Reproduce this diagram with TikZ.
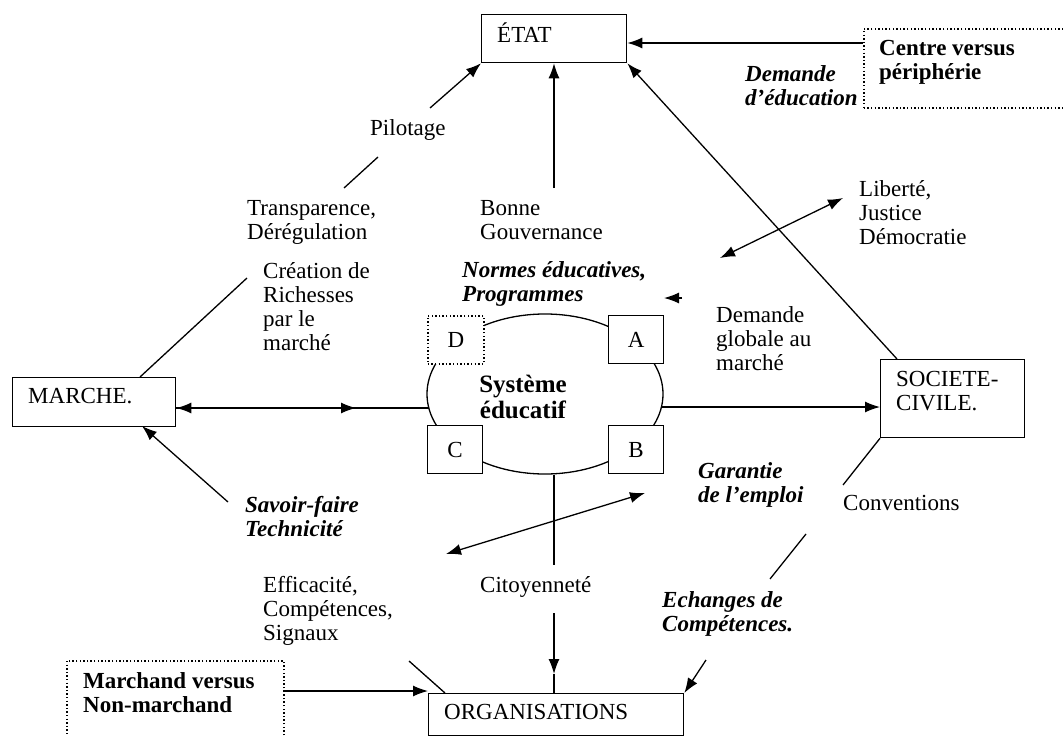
\documentclass[tikz,border=0pt]{standalone}
\usepackage{fontspec}
\setmainfont{Liberation Serif}
\usetikzlibrary{arrows.meta,shapes.geometric}
\newcommand\fs{\fontsize{23}{24}\selectfont}
\newcommand\ml[1]{\vtop{\halign{##\hfil\cr#1\crcr}}}
\newcommand\mlc[1]{\vtop{\halign{\hfil##\hfil\cr#1\crcr}}}
\begin{document}
\begin{tikzpicture}[x=1pt,y=-1pt,
  ln/.style={line width=1.3pt},
  arr/.style={ln,-{Latex[length=15pt,width=11pt]}},
  darr/.style={ln,{Latex[length=15pt,width=11pt]}-{Latex[length=15pt,width=11pt]}},
  box/.style={draw,line width=1.3pt,anchor=north west,inner sep=0pt,fill=white},
  dotbox/.style={box,dash pattern=on 1.4pt off 2.2pt,line width=1.7pt},
  txt/.style={inner sep=0pt,anchor=base west,font=\fs},
  bi/.style={txt,font=\fs\bfseries\itshape},
  bf/.style={txt,font=\fs\bfseries}]
\useasboundingbox (0,0) rectangle (1063,736);
\fill[white] (0,0) rectangle (1063,736);

% ---- main boxes ----
\node[box,minimum width=145pt,minimum height=48pt] (etat) at (481,14) {};
\node[txt] (etatT) at (497,42) {ÉTAT};
\node[dotbox,minimum width=215pt,minimum height=79pt] (centre) at (863,28) {};
\node[bf] (centreT) at (879,55) {\ml{Centre versus\cr périphérie}};
\node[box,minimum width=163pt,minimum height=49pt] (marche) at (12,377) {};
\node[txt] (marcheT) at (28,403) {MARCHE.};
\node[box,minimum width=144pt,minimum height=78pt] (societe) at (880,359) {};
\node[txt] (societeT) at (896,386) {\ml{SOCIETE-\cr CIVILE.}};
\node[box,minimum width=255pt,minimum height=42pt] (org) at (428,693) {};
\node[txt] (orgT) at (444,719) {ORGANISATIONS};
\node[dotbox,minimum width=217pt,minimum height=95pt] (marchand) at (66,660) {};
\node[bf] (marchandT) at (83,688) {\ml{Marchand versus\cr Non-marchand}};

% ---- système éducatif ----
\node[draw,ellipse,line width=1.3pt,minimum width=236pt,minimum height=160pt,inner sep=0pt] (sys) at (545,394) {};
\node[dotbox,minimum width=56pt,minimum height=48pt] (D) at (427,315) {};
\node[box,minimum width=55pt,minimum height=48pt] (A) at (608,315) {};
\node[box,minimum width=55pt,minimum height=48pt] (C) at (427,425) {};
\node[box,minimum width=55pt,minimum height=48pt] (B) at (608,425) {};
\node[font=\fs] at (D.center) {D};
\node[font=\fs] at (A.center) {A};
\node[font=\fs] at (C.center) {C};
\node[font=\fs] at (B.center) {B};
\node[inner sep=0pt,anchor=base,font=\fontsize{25}{26}\selectfont\bfseries] (sysT) at (523,392) {\mlc{Système\cr éducatif}};

% ---- labels ----
\node[txt] (pil) at (370,135) {Pilotage};
\node[txt] (transp) at (247,215) {\ml{Transparence,\cr Dérégulation}};
\node[txt] (bonne) at (480,215) {\ml{Bonne\cr Gouvernance}};
\node[txt] (creation) at (263,278) {\ml{Création de\cr Richesses\cr par le\cr marché}};
\node[bi] (normes) at (462,277) {\ml{Normes éducatives,\cr Programmes}};
\node[txt] (demglob) at (716,322) {\ml{Demande\cr globale au\cr marché}};
\node[txt] (liberte) at (859,196) {\ml{Liberté,\cr Justice\cr Démocratie}};
\node[bi] (demedu) at (745,81) {\ml{Demande\cr d’éducation}};
\node[bi] (garantie) at (698,478) {\ml{Garantie\cr de l’emploi}};
\node[txt] (conv) at (843,510) {Conventions};
\node[bi] (savoir) at (245,512) {\ml{Savoir-faire\cr Technicité}};
\node[txt] (effic) at (263,592) {\ml{Efficacité,\cr Compétences,\cr Signaux}};
\node[txt] (citoy) at (480,592) {Citoyenneté};
\node[bi] (echanges) at (662,607) {\ml{Echanges de\cr Compétences.}};

% ---- coordinates ----
\coordinate (p1) at (430,108);
\coordinate (p2) at (378,157);
\coordinate (p3) at (344,188);
\coordinate (bg) at (554,188);
\coordinate (soc) at (897,359);
\coordinate (c1) at (863,43);
\coordinate (lib1) at (843,198);
\coordinate (lib2) at (720,258);
\coordinate (nA) at (682,298);
\coordinate (nB) at (664,298);
\coordinate (cr) at (247,278);
\coordinate (mtop) at (140,377);
\coordinate (sysL) at (428.5,408);
\coordinate (mid) at (356,408);
\coordinate (sysR) at (662,407);
\coordinate (sf) at (228,502);
\coordinate (mbot) at (142,426);
\coordinate (g1) at (645,493);
\coordinate (g2) at (446,554);
\coordinate (v1) at (554,565);
\coordinate (v2) at (554,613);
\coordinate (v3) at (554,674);
\coordinate (cv) at (843,485);
\coordinate (e1) at (806,534);
\coordinate (e2) at (770,579);
\coordinate (e3) at (706,660);
\coordinate (mc) at (283,691);
\coordinate (s1) at (409,661);
\coordinate (s2) at (445,693);

% ---- connectors ----
\draw[arr] (p1) -- (etat.south west);
\draw[ln] (p2) -- (p3);
\draw[arr] (bg) -- (bg |- etat.south);
\draw[arr] (soc) -- (etat.south east);
\draw[arr] (c1) -- (c1 -| etat.east);
\draw[darr] (lib2) -- (lib1);
\draw[arr] (nA) -- (nB);
\draw[ln] (cr) -- (mtop);
\draw[ln,{Latex[length=15pt,width=11pt]}-] (marche.east |- sysL) -- (sysL);
\draw[arr] (marche.east |- sysL) -- (mid);
\draw[arr] (sysR) -- (sysR -| societe.west);
\draw[arr] (sf) -- (mbot);
\draw[darr] (g2) -- (g1);
\draw[ln] (v1 |- sys.south) -- (v1);
\draw[arr] (v2) -- (v3);
\draw[ln] (v3) -- (v3 |- org.north);
\draw[ln] (societe.south west) -- (cv);
\draw[ln] (e1) -- (e2);
\draw[arr] (e3) -- (org.north east);
\draw[arr] (mc) -- (mc -| org.west);
\draw[ln] (s1) -- (s2);
\end{tikzpicture}
\end{document}
